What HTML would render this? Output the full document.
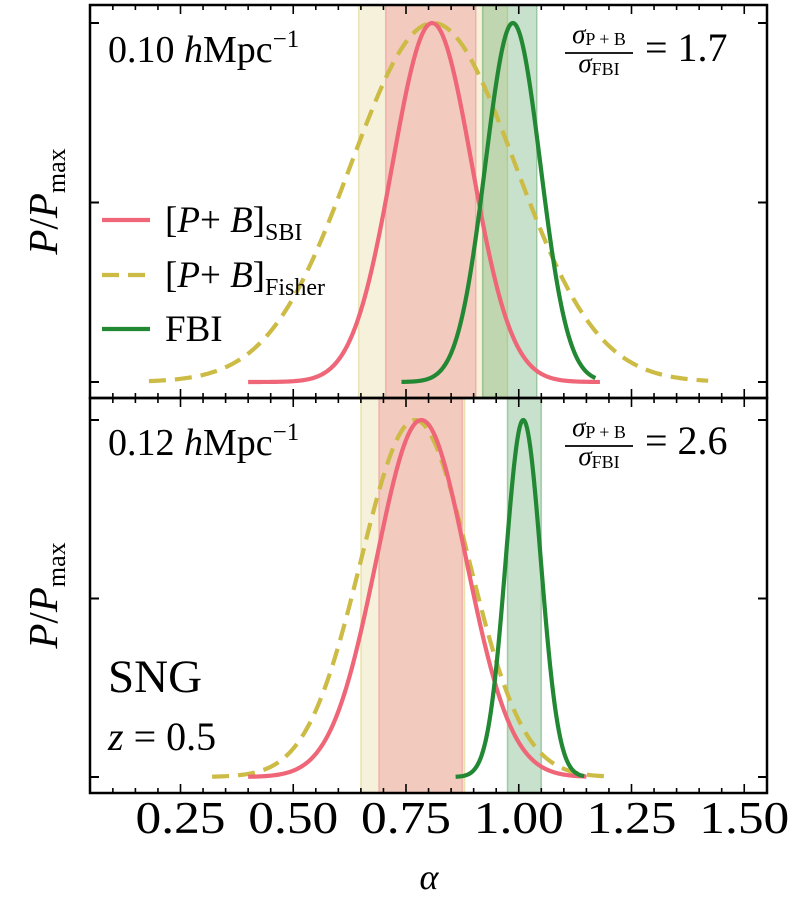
<!DOCTYPE html>
<html><head><meta charset="utf-8">
<style>
html,body{margin:0;padding:0;background:#fff;}
svg{display:block;font-family:"Liberation Serif","DejaVu Serif",serif;}
</style></head>
<body>
<svg id="chart" width="793" height="898" viewBox="0 0 793 898" xmlns="http://www.w3.org/2000/svg">
<g id="bands"></g>
<g id="curves"></g>
<g id="axes"></g>
<g id="labels"></g>
</svg>
<script>
// ---- data ----
const xTicks = [0.25, 0.5, 0.75, 1.0, 1.25, 1.5];
const xTickLabels = ["0.25", "0.50", "0.75", "1.00", "1.25", "1.50"];
const yTicks = [0, 0.5, 1];
const panelNames = ["k010", "k012"];
// gaussian params per panel: [mean, sigma, xmin, xmax]
const sbiParams = [[0.808, 0.088, 0.40, 1.18], [0.784, 0.100, 0.40, 1.15]];
const fisherParams = [[0.81, 0.182, 0.18, 1.42], [0.77, 0.120, 0.32, 1.20]];
const fbiParams = [[0.987, 0.061, 0.74, 1.17], [1.01, 0.039, 0.86, 1.145]];
// 1-sigma bands [lo, hi]
const fisherBands = [[0.645, 0.975], [0.65, 0.88]];
const sbiBands = [[0.705, 0.905], [0.69, 0.875]];
const fbiBands = [[0.92, 1.04], [0.975, 1.05]];
const ratioLabels = ["1.7", "2.6"];
const kLabels = ["0.10", "0.12"];

// ---- layout ----
const X0 = 90, X1 = 767;
const panels = [{top: 5, bot: 398, y0: 382, y1: 23}, {top: 398, bot: 793, y0: 777, y1: 420}];
const xScale = a => 180.5 + (a - 0.25) * 451;
const yScale = (p, v) => panels[p].y0 + (panels[p].y1 - panels[p].y0) * v;
const NS = "http://www.w3.org/2000/svg";
function mk(tag, attrs, parent) {
  const e = document.createElementNS(NS, tag);
  for (const k in attrs) e.setAttribute(k, attrs[k]);
  parent.appendChild(e); return e;
}
const gB = document.getElementById("bands"), gC = document.getElementById("curves"),
      gA = document.getElementById("axes"), gL = document.getElementById("labels");

function band(p, rng, color, op, name) {
  const r = mk("rect", {x: xScale(rng[0]), y: panels[p].top, width: xScale(rng[1]) - xScale(rng[0]), height: panels[p].bot - panels[p].top, fill: color, "fill-opacity": op, stroke: color, "stroke-opacity": 0.35, "stroke-width": 1.5}, gB);
  
  
}
function curve(p, par, color, dash, name) {
  const [m, s, a, b] = par; let d = "";
  for (let i = 0; i <= 200; i++) {
    const x = a + (b - a) * i / 200;
    const v = Math.exp(-0.5 * ((x - m) / s) ** 2);
    d += (i ? "L" : "M") + xScale(x).toFixed(2) + "," + yScale(p, v).toFixed(2);
  }
  const at = {d: d, fill: "none", stroke: color, "stroke-width": 4.2, "stroke-linejoin": "round"};
  if (dash) at["stroke-dasharray"] = "17,9";
  const e = mk("path", at, gC);
  
  
}

for (let p = 0; p < 2; p++) {
  band(p, fisherBands[p], "#CCBB44", 0.2, "fisher-band-" + panelNames[p]);
  band(p, sbiBands[p], "#EE6677", 0.28, "sbi-band-" + panelNames[p]);
  band(p, fbiBands[p], "#228833", 0.25, "fbi-band-" + panelNames[p]);
  curve(p, fisherParams[p], "#CCBB44", true, "fisher-curve-" + panelNames[p]);
  curve(p, sbiParams[p], "#EE6677", false, "sbi-curve-" + panelNames[p]);
  curve(p, fbiParams[p], "#228833", false, "fbi-curve-" + panelNames[p]);

  const P = panels[p];
  const fr = mk("rect", {x: X0, y: P.top, width: X1 - X0, height: P.bot - P.top, fill: "none", stroke: "#000", "stroke-width": 2.5}, gA);
  
  
  for (let k = 1; k <= 30; k++) {
    const a = k * 0.05; const x = xScale(a);
    if (x <= X0 + 1 || x >= X1 - 1) continue;
    const major = (k % 5 === 0); const L = major ? 9 : 5;
    mk("line", {x1: x, x2: x, y1: P.bot, y2: P.bot - L, stroke: "#000", "stroke-width": 1.6}, gA);
    mk("line", {x1: x, x2: x, y1: P.top, y2: P.top + L, stroke: "#000", "stroke-width": 1.6}, gA);
  }
  yTicks.forEach(v => {
    const y = yScale(p, v);
    mk("line", {x1: X0, x2: X0 + 9, y1: y, y2: y, stroke: "#000", "stroke-width": 2}, gA);
    mk("line", {x1: X1, x2: X1 - 9, y1: y, y2: y, stroke: "#000", "stroke-width": 2}, gA);
  });
  const cy = (P.top + P.bot) / 2;
  const yl = mk("text", {x: 0, y: 0, transform: `translate(57,${cy}) rotate(-90)`, "text-anchor": "middle", "font-size": 41}, gL);
  yl.innerHTML = '<tspan font-style="italic">P</tspan>/<tspan font-style="italic">P</tspan><tspan font-size="26" dy="8">max</tspan>';
  
  
  const kb = P.top + 57;
  const kt = mk("text", {x: 108, y: kb, "font-size": 38}, gL);
  kt.innerHTML = kLabels[p] + ' <tspan font-style="italic">h</tspan>Mpc<tspan font-size="25" dy="-15">−1</tspan>';
  
  
  const rg = mk("g", {}, gL);
  
  
  const n = mk("text", {x: 599, y: P.top + 38, "text-anchor": "middle", "font-size": 27}, rg);
  n.innerHTML = '<tspan font-style="italic">σ</tspan><tspan font-size="18" dy="2">P + B</tspan>';
  mk("line", {x1: 565, x2: 633, y1: P.top + 48, y2: P.top + 48, stroke: "#000", "stroke-width": 1.8}, rg);
  const dn = mk("text", {x: 599, y: P.top + 67, "text-anchor": "middle", "font-size": 27}, rg);
  dn.innerHTML = '<tspan font-style="italic">σ</tspan><tspan font-size="18" dy="3">FBI</tspan>';
  const eq = mk("text", {x: 645, y: P.top + 56, "font-size": 40}, rg);
  eq.textContent = "= " + ratioLabels[p];
}

xTicks.forEach((a, i) => {
  const t = mk("text", {x: xScale(a), y: 833, "text-anchor": "middle", "font-size": 45, textLength: 90, lengthAdjust: "spacingAndGlyphs"}, gL);
  t.textContent = xTickLabels[i];
  
  
});
const xl = mk("text", {x: 429, y: 889, "text-anchor": "middle", "font-size": 36, "font-style": "italic"}, gL);
xl.textContent = "α";



const lg = mk("g", {}, gL);


const legendNames = ["SBI", "Fisher", "FBI"];
const legendColors = ["#EE6677", "#CCBB44", "#228833"];
const legendY = [220, 275, 329];
legendNames.forEach((nm, i) => {
  const y = legendY[i];
  const ln = mk("line", {x1: 102, x2: 150, y1: y, y2: y, stroke: legendColors[i], "stroke-width": 4.2}, lg);
  if (i === 1) ln.setAttribute("stroke-dasharray", "17,9");
  const t = mk("text", {x: 165, y: y + 12, "font-size": 37}, lg);
  if (i < 2) t.innerHTML = '[<tspan font-style="italic">P</tspan>+ <tspan font-style="italic">B</tspan>]<tspan font-size="24" dy="8">' + nm + '</tspan>';
  else t.textContent = "FBI";
  
  
});

const sng = mk("text", {x: 108, y: 692, "font-size": 47}, gL);
sng.textContent = "SNG";


const zt = mk("text", {x: 108, y: 750, "font-size": 40}, gL);
zt.innerHTML = '<tspan font-style="italic">z</tspan> = 0.5';


</script>
</body></html>
